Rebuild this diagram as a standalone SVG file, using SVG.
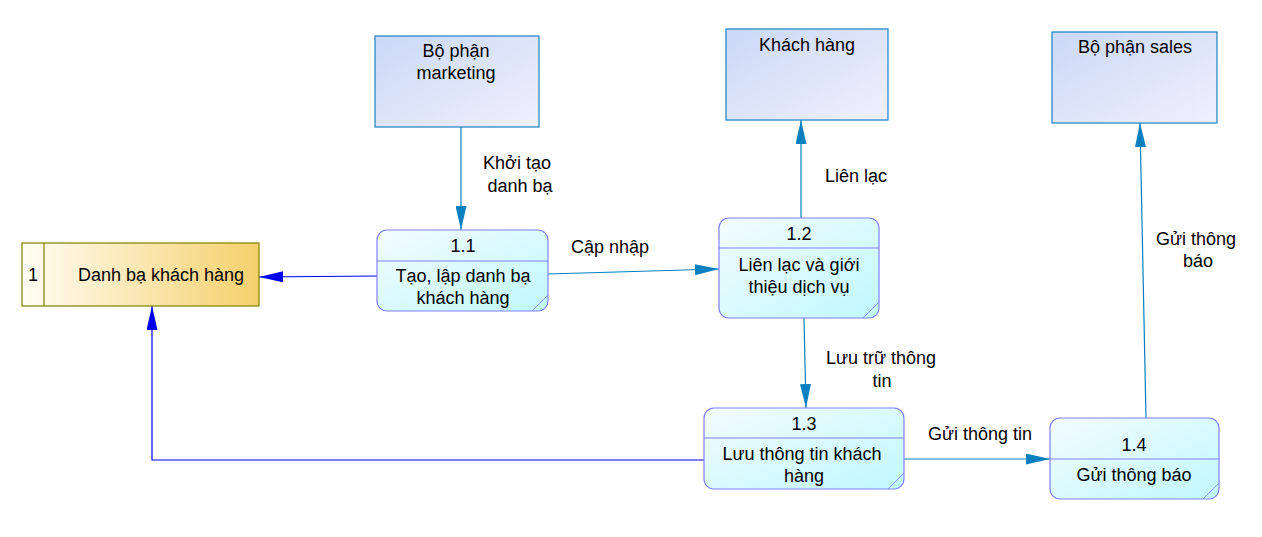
<svg xmlns="http://www.w3.org/2000/svg" width="1262" height="537" viewBox="0 0 1262 537">
<defs>
<linearGradient id="gEnt" x1="0" y1="0" x2="1" y2="1">
<stop offset="0" stop-color="#cad9f7"/><stop offset="1" stop-color="#f0f0fc"/>
</linearGradient>
<linearGradient id="gProc" x1="0" y1="0" x2="1" y2="1">
<stop offset="0" stop-color="#f4fcff"/><stop offset="1" stop-color="#bff8ff"/>
</linearGradient>
<linearGradient id="gStore" x1="0" y1="0" x2="1" y2="0">
<stop offset="0" stop-color="#fffdf5"/><stop offset="1" stop-color="#f5d06c"/>
</linearGradient>
<marker id="aT" viewBox="0 0 24 11" refX="24" refY="5.5" markerWidth="24" markerHeight="11" markerUnits="userSpaceOnUse" orient="auto">
<path d="M0,0 L24,5.5 L0,11 Z" fill="#0a80c0"/>
</marker>
<marker id="aB" viewBox="0 0 24 11" refX="24" refY="5.5" markerWidth="24" markerHeight="11" markerUnits="userSpaceOnUse" orient="auto">
<path d="M0,0 L24,5.5 L0,11 Z" fill="#0000ee"/>
</marker>
</defs>
<style>
text{font-family:"Liberation Sans",Arial,sans-serif;font-size:18px;fill:#000;text-anchor:middle}
.ent{fill:url(#gEnt);stroke:#1a80c0;stroke-width:1.2}
.proc{fill:url(#gProc);stroke:#8080ff;stroke-width:1.2}
.div{stroke:#8080ff;stroke-width:1.2}
.fold{stroke:#8080ff;stroke-width:0.8}
.store{fill:url(#gStore);stroke:#808000;stroke-width:1.2}
.ft{fill:none;stroke:#0a80c0;stroke-width:1.2;marker-end:url(#aT)}
.fb{fill:none;stroke:#0000ee;stroke-width:1.2;marker-end:url(#aB)}
</style>
<rect width="1262" height="537" fill="#fff"/>

<g id="connectors">
<line class="ft" x1="461" y1="127" x2="461" y2="230"/>
<text x="517" y="169">Khởi tạo</text>
<text x="520" y="192">danh bạ</text>
<line class="ft" x1="801" y1="218" x2="801" y2="120"/>
<text x="856" y="182">Liên lạc</text>
<line class="ft" x1="1146" y1="418" x2="1140" y2="123"/>
<text x="1196" y="245">Gửi thông</text>
<text x="1198" y="267">báo</text>
<line class="ft" x1="548" y1="274" x2="719" y2="269"/>
<text x="610" y="253">Cập nhập</text>
<line class="fb" x1="377" y1="276" x2="259" y2="277"/>
<line class="ft" x1="804" y1="318" x2="806" y2="408"/>
<text x="881" y="364">Lưu trữ thông</text>
<text x="882" y="387">tin</text>
<line class="ft" x1="904" y1="459" x2="1050" y2="459"/>
<text x="980" y="440">Gửi thông tin</text>
<polyline class="fb" points="704,460 152,460 152,306"/>
</g>

<g id="ext-marketing">
<rect class="ent" x="375" y="36" width="164" height="91"/>
<text x="456" y="57">Bộ phận</text>
<text x="456" y="79">marketing</text>
</g>
<g id="ext-khachhang">
<rect class="ent" x="726" y="29" width="162" height="91"/>
<text x="807" y="51">Khách hàng</text>
</g>
<g id="ext-sales">
<rect class="ent" x="1052" y="32" width="165" height="91"/>
<text x="1135" y="53">Bộ phận sales</text>
</g>

<g id="store-1">
<rect class="store" x="22" y="243" width="237" height="63"/>
<line x1="44" y1="243" x2="44" y2="306" stroke="#808000" stroke-width="1.2"/>
<text x="33" y="281">1</text>
<text x="161" y="281">Danh bạ khách hàng</text>
</g>

<g id="proc-1-1">
<rect class="proc" x="377" y="230" width="171" height="81" rx="10"/>
<line class="div" x1="377" y1="261" x2="548" y2="261"/>
<line class="fold" x1="532" y1="311" x2="548" y2="295"/>
<text x="463" y="252">1.1</text>
<text x="463" y="282">Tạo, lập danh bạ</text>
<text x="463" y="304">khách hàng</text>
</g>

<g id="proc-1-2">
<rect class="proc" x="719" y="218" width="160" height="100" rx="10"/>
<line class="div" x1="719" y1="248" x2="879" y2="248"/>
<line class="fold" x1="863" y1="318" x2="879" y2="302"/>
<text x="799" y="240">1.2</text>
<text x="799" y="271">Liên lạc và giới</text>
<text x="799" y="293">thiệu dịch vụ</text>
</g>

<g id="proc-1-3">
<rect class="proc" x="704" y="408" width="200" height="81" rx="10"/>
<line class="div" x1="704" y1="438" x2="904" y2="438"/>
<line class="fold" x1="888" y1="489" x2="904" y2="473"/>
<text x="804" y="430">1.3</text>
<text x="802" y="460">Lưu thông tin khách</text>
<text x="804" y="482">hàng</text>
</g>

<g id="proc-1-4">
<rect class="proc" x="1050" y="418" width="169" height="81" rx="10"/>
<line class="div" x1="1050" y1="459" x2="1219" y2="459"/>
<line class="fold" x1="1203" y1="499" x2="1219" y2="483"/>
<text x="1134" y="451">1.4</text>
<text x="1134" y="481">Gửi thông báo</text>
</g>
</svg>
